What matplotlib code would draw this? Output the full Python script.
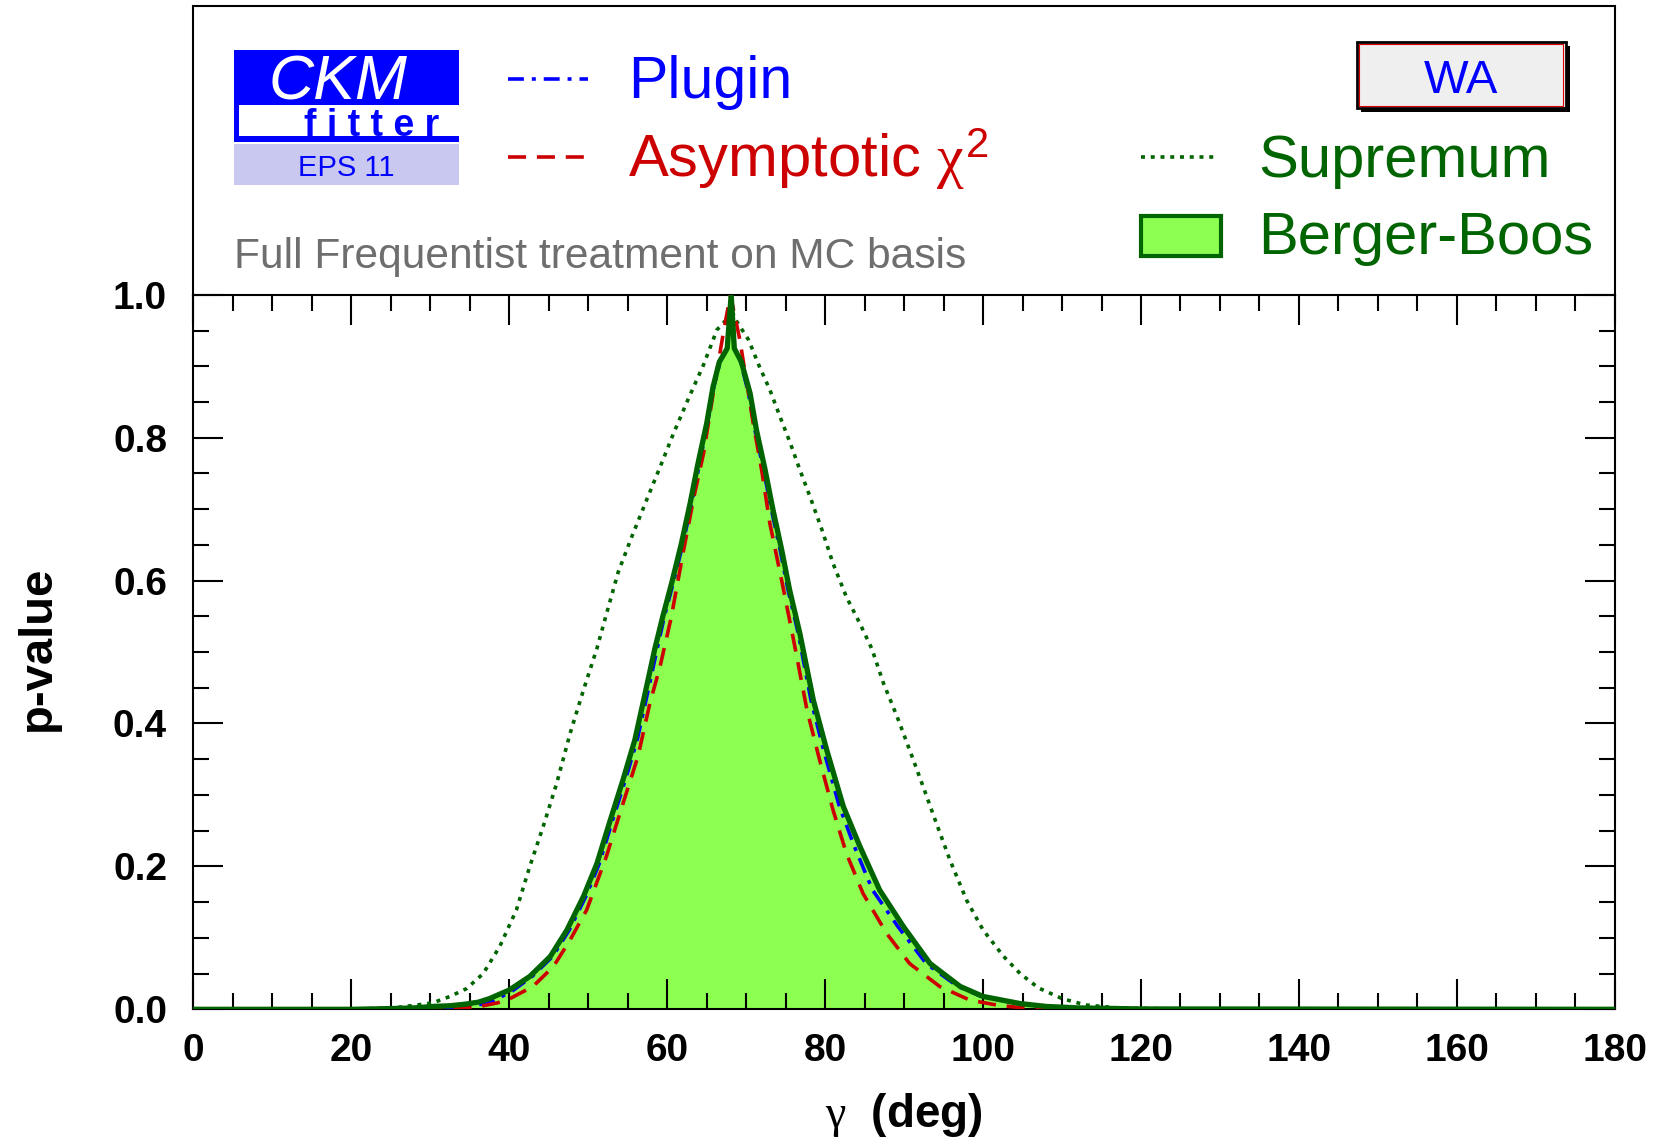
import matplotlib
matplotlib.use("Agg")
import matplotlib.pyplot as plt
from matplotlib.patches import Rectangle
from matplotlib.ticker import MultipleLocator, FormatStrFormatter

plt.rcParams['font.family'] = ['Liberation Sans', 'DejaVu Sans']
plt.rcParams['mathtext.fontset'] = 'custom'
plt.rcParams['mathtext.rm'] = 'Liberation Sans'
plt.rcParams['mathtext.it'] = 'Liberation Serif'
plt.rcParams['mathtext.bf'] = 'Liberation Sans:bold'

# ---------------- data ----------------
# Berger-Boos (filled, solid dark green)
bb_gamma = [0, 20, 25, 28, 30.3, 32.5, 34.3, 36.1, 37.5, 40.0,
            42.6, 45.2, 47.3, 49.4, 51.1, 52.8, 54.4, 55.9, 57.2, 58.4,
            59.4, 60.6, 61.8, 62.9, 63.9, 65.0, 65.8, 66.6, 67.6, 68.1,
            68.5, 69.4, 70.5, 71.3, 72.4, 73.4, 74.5, 75.5, 76.8, 78.5,
            80.2, 82.3, 84.4, 86.9, 89.9, 93.3, 97.1, 100.0, 104.7, 108.0,
            112.0, 120.0, 180.0]
bb_pvalue = [0, 0, 0.001, 0.002, 0.004, 0.005, 0.007, 0.010, 0.015, 0.027,
             0.046, 0.074, 0.111, 0.158, 0.204, 0.265, 0.321, 0.377, 0.442, 0.503,
             0.548, 0.598, 0.652, 0.708, 0.764, 0.820, 0.871, 0.906, 0.925, 1.000,
             0.925, 0.906, 0.862, 0.811, 0.755, 0.699, 0.643, 0.587, 0.526, 0.433,
             0.363, 0.284, 0.228, 0.167, 0.116, 0.064, 0.032, 0.018, 0.008, 0.004,
             0.002, 0.0005, 0]

# Plugin (blue dash-dot)
pl_gamma = [0, 25, 30, 33, 36.5, 38.0, 40.3, 42.9, 45.5, 47.6,
            49.7, 51.4, 53.1, 54.7, 56.2, 57.5, 58.7, 59.6, 60.8, 62.0,
            63.1, 64.1, 65.1, 65.9, 66.7, 67.6, 68.1, 68.5, 69.3, 70.3,
            71.1, 72.2, 73.2, 74.3, 75.3, 76.6, 78.2, 79.8, 81.8, 83.7,
            86.0, 89.2, 92.8, 96.8, 99.8, 104.5, 108.0, 112.0, 120.0, 180.0]
pl_pvalue = [0, 0, 0.001, 0.003, 0.007, 0.012, 0.025, 0.046, 0.074, 0.111,
             0.158, 0.204, 0.265, 0.321, 0.377, 0.442, 0.503, 0.548, 0.598, 0.652,
             0.708, 0.764, 0.820, 0.871, 0.906, 0.925, 1.000, 0.925, 0.906, 0.862,
             0.811, 0.755, 0.699, 0.643, 0.587, 0.526, 0.433, 0.363, 0.284, 0.228,
             0.167, 0.116, 0.064, 0.032, 0.018, 0.008, 0.004, 0.002, 0.0005, 0]

# Asymptotic chi2 (red dashed)
as_gamma = [0, 30, 35.4, 36.7, 38.5, 40.1, 43.0, 45.6, 47.7, 49.8,
            52.3, 54.4, 56.3, 57.8, 59.1, 60.5, 62.0, 63.4, 64.6, 66.0,
            67.1, 68.0, 69.2, 70.9, 72.0, 73.0, 74.5, 76.0, 77.7, 79.3,
            81.0, 82.7, 84.8, 87.8, 90.7, 94.5, 98.3, 101.7, 105.0, 110.0,
            180.0]
as_pvalue = [0, 0, 0.003, 0.005, 0.009, 0.015, 0.032, 0.060, 0.097, 0.139,
             0.214, 0.288, 0.354, 0.428, 0.480, 0.548, 0.638, 0.718, 0.778, 0.874,
             0.946, 1.000, 0.937, 0.820, 0.752, 0.680, 0.600, 0.517, 0.419, 0.349,
             0.279, 0.218, 0.162, 0.106, 0.064, 0.032, 0.013, 0.006, 0.002, 0.0005,
             0]

# Supremum (dark green dotted)
su_gamma = [0, 20, 25.4, 28.3, 30.3, 32.5, 34.6, 36.7, 38.8, 40.9,
            42.6, 44.3, 46.0, 47.7, 49.4, 51.1, 52.3, 53.8, 55.5, 57.4,
            59.1, 60.8, 62.7, 64.6, 66.3, 67.9, 68.2, 68.5, 70.3, 71.7,
            73.0, 74.3, 75.6, 76.8, 78.1, 79.6, 81.0, 82.7, 84.4, 85.9,
            87.4, 89.1, 90.7, 92.4, 94.1, 95.8, 97.9, 100.0, 102.6, 104.7,
            107.0, 110.0, 113.0, 117.0, 125.0, 180.0]
su_pvalue = [0, 0, 0.002, 0.006, 0.009, 0.018, 0.029, 0.050, 0.088, 0.139,
             0.200, 0.256, 0.316, 0.386, 0.447, 0.505, 0.553, 0.612, 0.661, 0.713,
             0.759, 0.806, 0.855, 0.902, 0.951, 0.970, 0.980, 0.968, 0.937, 0.899,
             0.867, 0.829, 0.792, 0.755, 0.717, 0.671, 0.624, 0.577, 0.540, 0.505,
             0.456, 0.410, 0.363, 0.312, 0.260, 0.209, 0.153, 0.111, 0.074, 0.050,
             0.030, 0.015, 0.006, 0.002, 0.0003, 0]

series_labels = ['Plugin', r'Asymptotic $\chi^{2}$', 'Supremum', 'Berger-Boos']
x_label = r'$\gamma$  (deg)'
y_label = 'p-value'

# ---------------- style ----------------
DG = '#006400'
FILL = '#8cff50'
BLUE = '#0000ff'
RED = '#cc0000'
LW = 2.6
PL_LS = (0, (4.4, 2.2, 1.1, 2.2))
AS_LS = (0, (5.0, 3.0))
SU_LS = (0, (1.1, 1.6))

W, H = 1657, 1140
fig = plt.figure(figsize=(W / 100, H / 100), dpi=100)
L, R, T, B = 193.4, 1614.8, 294.8, 1009.3
ax = fig.add_axes([L / W, 1 - B / H, (R - L) / W, (B - T) / H])

ax.fill_between(bb_gamma, bb_pvalue, 0, color=FILL, lw=0, zorder=1)
ax.plot(su_gamma, su_pvalue, color=DG, lw=LW, ls=SU_LS, zorder=2)
ax.plot(pl_gamma, pl_pvalue, color=BLUE, lw=LW, ls=PL_LS, zorder=3)
ax.plot(as_gamma, as_pvalue, color=RED, lw=LW, ls=AS_LS, zorder=4)
ax.plot(bb_gamma, bb_pvalue, color=DG, lw=3.8, zorder=5)

ax.set_xlim(0, 180)
ax.set_ylim(0, 1.0)
ax.xaxis.set_major_locator(MultipleLocator(20))
ax.xaxis.set_minor_locator(MultipleLocator(5))
ax.yaxis.set_major_locator(MultipleLocator(0.2))
ax.yaxis.set_minor_locator(MultipleLocator(0.05))
ax.yaxis.set_major_formatter(FormatStrFormatter('%.1f'))
ax.tick_params(which='both', direction='in', top=True, right=True, width=1.5)
ax.tick_params(which='major', length=21.6)
ax.tick_params(which='minor', length=11.5)
ax.tick_params(axis='x', which='major', pad=17, labelsize=28)
ax.tick_params(axis='y', which='major', pad=19, labelsize=28)
for lab in ax.get_xticklabels() + ax.get_yticklabels():
    lab.set_fontweight('bold')
for sp in ax.spines.values():
    sp.set_linewidth(1.5)

ax.set_xlabel(x_label, fontsize=33, fontweight='bold')
ax.xaxis.label.set_va('baseline')
ax.xaxis.set_label_coords(0.5, -(1127 - B) / (B - T))
ax.set_ylabel(y_label, fontsize=34, fontweight='bold')
ax.yaxis.label.set_va('baseline')
ax.yaxis.label.set_rotation_mode('anchor')
ax.yaxis.set_label_coords((50 - L) / (R - L), (B - 648.6) / (B - T))

# ---------------- overlay for frame, legend and logo (pixel coords) ----------------
ov = fig.add_axes([0, 0, 1, 1])
ov.set_xlim(0, W)
ov.set_ylim(H, 0)
ov.axis('off')

ov.plot([L, L, R, R], [T, 5.5, 5.5, T], color='k', lw=1.5, solid_joinstyle='miter')

# legend samples
ov.plot([508, 588], [79.3, 79.3], color=BLUE, lw=LW, ls=PL_LS)
ov.plot([508, 588], [156.7, 156.7], color=RED, lw=LW, ls=AS_LS)
ov.plot([1141, 1219], [157.3, 157.3], color=DG, lw=LW, ls=SU_LS)
ov.add_patch(Rectangle((1141, 216), 80, 40, fc=FILL, ec=DG, lw=3))

ov.text(628, 98, series_labels[0], color=BLUE, fontsize=42.5, va='baseline')
ov.text(628, 177, series_labels[1], color=RED, fontsize=43, va='baseline')
ov.text(1258, 177, series_labels[2], color=DG, fontsize=43, va='baseline')
ov.text(1258, 254, series_labels[3], color=DG, fontsize=43, va='baseline')
ov.text(234, 268, 'Full Frequentist treatment on MC basis', color='#6e6e6e',
        fontsize=30.6, va='baseline')

# WA box
ov.add_patch(Rectangle((1360.5, 45.5), 209, 66.6, fc='k', ec='none'))
ov.add_patch(Rectangle((1356.5, 41.7), 209, 66.6, fc='#efefef', ec='k', lw=2))
ov.add_patch(Rectangle((1359, 44.2), 204, 61.6, fc='none', ec='#dd0000', lw=0.8))
ov.text(1461, 93.3, 'WA', color=BLUE, fontsize=34, ha='center', va='baseline')

# CKMfitter logo
ov.add_patch(Rectangle((233.8, 50), 225, 55, fc=BLUE, ec='none'))
ov.add_patch(Rectangle((233.8, 105), 225, 36.7, fc=BLUE, ec='none'))
ov.add_patch(Rectangle((238.8, 105), 220, 31, fc='white', ec='none'))
ov.add_patch(Rectangle((233.8, 144.3), 225, 40.7, fc='#c8c8f0', ec='none'))
ov.text(268.5, 100, 'CKM', color='white', fontsize=45, style='italic', va='baseline')
ov.text(304, 135.5, 'f i t t e r', color=BLUE, fontsize=27, fontweight='bold',
        va='baseline')
ov.text(346, 176, 'EPS 11', color=BLUE, fontsize=21, ha='center', va='baseline')

fig.savefig('out.png', dpi=100)
